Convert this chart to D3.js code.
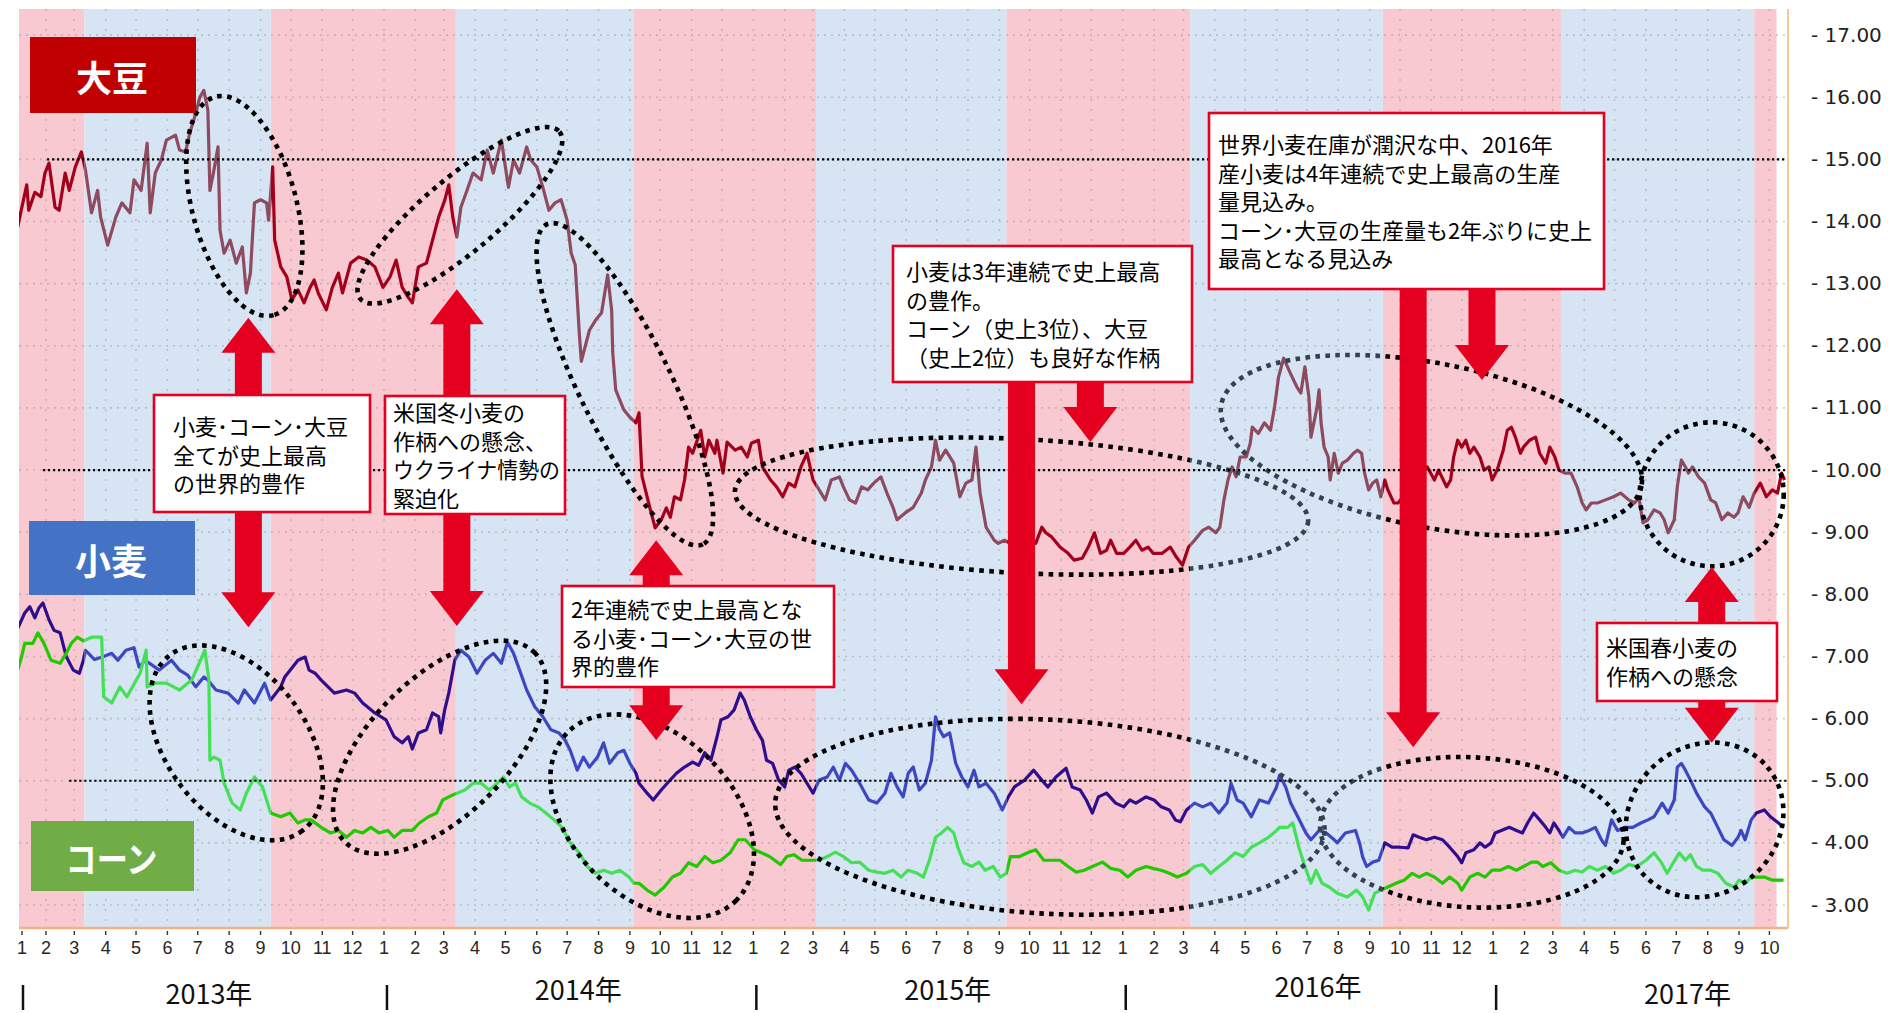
<!DOCTYPE html>
<html lang="ja">
<head>
<meta charset="utf-8">
<title>小麦・コーン・大豆 価格推移</title>
<script src="https://cdn.jsdelivr.net/npm/d3@7"></script>
<style>
  html, body { margin: 0; padding: 0; background: #fff; }
  svg { display: block; }
  .jp { font-family: "Noto Sans CJK JP", "Noto Sans", sans-serif; }
</style>
</head>
<body>
<svg id="chart" width="1888" height="1013"></svg>
<script>
// --- data: [date, price] ---
const soyPrices = [
  ["2013-01-04",13.9],["2013-01-07",14.14],["2013-01-13",14.59],["2013-01-15",14.18],["2013-01-21",14.47],["2013-01-27",14.4],
  ["2013-01-31",14.78],["2013-02-04",14.94],["2013-02-10",14.23],["2013-02-14",14.18],["2013-02-20",14.78],["2013-02-24",14.5],
  ["2013-03-02",14.88],["2013-03-08",15.12],["2013-03-12",14.83],["2013-03-18",14.14],["2013-03-24",14.5],["2013-03-27",14.07],
  ["2013-04-03",13.62],["2013-04-11",14.07],["2013-04-17",14.3],["2013-04-25",14.14],["2013-04-29",14.67],["2013-05-06",14.5],
  ["2013-05-12",15.26],["2013-05-15",14.14],["2013-05-20",14.78],["2013-05-26",14.99],["2013-05-31",15.31],["2013-06-09",15.39],
  ["2013-06-13",15.15],["2013-06-19",15.12],["2013-06-23",15.42],["2013-06-29",15.74],["2013-07-03",16.0],["2013-07-07",16.11],
  ["2013-07-11",15.79],["2013-07-13",14.5],["2013-07-17",14.83],["2013-07-21",15.2],["2013-07-23",13.86],["2013-07-27",13.49],
  ["2013-08-02",13.7],["2013-08-08",13.33],["2013-08-14",13.59],["2013-08-18",12.85],["2013-08-22",13.17],["2013-08-26",14.3],
  ["2013-09-01",14.35],["2013-09-07",14.3],["2013-09-09",14.02],["2013-09-13",14.88],["2013-09-15",13.7],["2013-09-21",13.27],
  ["2013-09-27",13.11],["2013-10-02",12.74],["2013-10-08",12.9],["2013-10-14",12.69],["2013-10-20",12.94],["2013-10-24",13.06],
  ["2013-10-28",12.85],["2013-11-05",12.58],["2013-11-11",12.94],["2013-11-17",13.17],["2013-11-21",12.85],["2013-11-29",13.33],
  ["2013-12-07",13.43],["2013-12-15",13.38],["2013-12-23",13.27],["2013-12-31",12.94],["2014-01-07",13.11],["2014-01-13",13.38],
  ["2014-01-19",12.94],["2014-01-25",12.78],["2014-01-29",12.69],["2014-02-04",13.27],["2014-02-12",13.33],["2014-02-18",13.7],
  ["2014-02-24",14.07],["2014-03-02",14.34],["2014-03-06",14.59],["2014-03-10",14.07],["2014-03-14",13.75],["2014-03-18",14.23],
  ["2014-03-24",14.5],["2014-03-30",14.78],["2014-04-07",14.67],["2014-04-13",15.15],["2014-04-19",14.78],["2014-04-27",15.31],
  ["2014-05-04",14.55],["2014-05-09",14.99],["2014-05-15",14.78],["2014-05-22",15.2],["2014-05-26",14.99],["2014-06-01",14.88],
  ["2014-06-07",14.55],["2014-06-13",14.18],["2014-06-19",14.3],["2014-06-25",14.35],["2014-07-01",14.02],["2014-07-05",13.49],
  ["2014-07-09",13.3],["2014-07-13",12.2],["2014-07-15",11.75],["2014-07-23",12.25],["2014-07-29",12.41],["2014-08-04",12.53],
  ["2014-08-10",13.14],["2014-08-14",12.57],["2014-08-15",11.9],["2014-08-18",11.29],["2014-08-26",10.97],["2014-09-01",10.85],
  ["2014-09-07",10.76],["2014-09-10",10.92],["2014-09-13",9.9],["2014-09-22",9.31],["2014-09-26",9.07],["2014-10-02",9.2],
  ["2014-10-07",9.39],["2014-10-11",9.24],["2014-10-15",9.57],["2014-10-21",9.52],["2014-10-25",9.84],["2014-10-29",10.37],
  ["2014-11-02",10.27],["2014-11-10",10.64],["2014-11-14",10.21],["2014-11-18",10.48],["2014-11-24",10.27],["2014-11-26",10.48],
  ["2014-12-02",9.95],["2014-12-06",10.45],["2014-12-14",10.32],["2014-12-20",10.37],["2014-12-26",10.21],["2014-12-30",10.43],
  ["2015-01-06",10.48],["2015-01-10",10.05],["2015-01-18",9.84],["2015-01-24",9.73],["2015-01-30",9.57],["2015-02-05",9.79],
  ["2015-02-11",9.73],["2015-02-17",10.05],["2015-02-23",10.27],["2015-03-01",9.84],["2015-03-07",9.68],["2015-03-13",9.52],
  ["2015-03-19",9.84],["2015-03-27",9.89],["2015-03-31",9.73],["2015-04-06",9.52],["2015-04-12",9.47],["2015-04-18",9.73],
  ["2015-04-24",9.68],["2015-04-30",9.79],["2015-05-07",9.89],["2015-05-13",9.63],["2015-05-19",9.4],["2015-05-23",9.2],
  ["2015-05-31",9.31],["2015-06-08",9.4],["2015-06-16",9.63],["2015-06-20",9.84],["2015-06-26",10.05],["2015-06-30",10.48],
  ["2015-07-04",10.16],["2015-07-10",10.32],["2015-07-18",10.11],["2015-07-24",9.57],["2015-07-30",9.79],["2015-08-05",9.84],
  ["2015-08-09",10.37],["2015-08-13",9.63],["2015-08-19",9.08],["2015-08-27",8.87],["2015-08-31",8.82],["2015-09-06",8.87],
  ["2015-09-12",8.82],["2015-09-21",8.92],["2015-09-29",8.87],["2015-10-07",8.82],["2015-10-13",9.08],["2015-10-17",8.99],
  ["2015-10-23",8.92],["2015-10-31",8.76],["2015-11-08",8.66],["2015-11-14",8.55],["2015-11-22",8.58],["2015-11-28",8.76],
  ["2015-12-04",8.99],["2015-12-10",8.66],["2015-12-16",8.71],["2015-12-20",8.87],["2015-12-26",8.66],["2016-01-02",8.66],
  ["2016-01-08",8.76],["2016-01-14",8.87],["2016-01-20",8.71],["2016-01-26",8.76],["2016-01-31",8.66],["2016-02-09",8.66],
  ["2016-02-17",8.76],["2016-02-23",8.6],["2016-02-29",8.47],["2016-03-06",8.76],["2016-03-12",8.87],["2016-03-20",9.03],
  ["2016-03-26",9.08],["2016-04-02",8.99],["2016-04-06",9.08],["2016-04-10",9.52],["2016-04-14",9.84],["2016-04-18",10.05],
  ["2016-04-22",9.89],["2016-04-26",10.21],["2016-05-02",10.21],["2016-05-06",10.43],["2016-05-08",10.69],["2016-05-14",10.59],
  ["2016-05-20",10.76],["2016-05-26",10.64],["2016-05-30",11.01],["2016-06-03",11.5],["2016-06-08",11.8],["2016-06-14",11.58],
  ["2016-06-21",11.34],["2016-06-25",11.24],["2016-06-29",11.66],["2016-07-03",11.17],["2016-07-05",10.53],["2016-07-11",11.01],
  ["2016-07-13",11.29],["2016-07-15",10.76],["2016-07-18",10.37],["2016-07-22",10.21],["2016-07-24",9.84],["2016-07-28",10.27],
  ["2016-08-01",9.95],["2016-08-05",10.11],["2016-08-10",10.16],["2016-08-16",10.27],["2016-08-20",10.32],["2016-08-24",10.27],
  ["2016-08-27",9.95],["2016-08-31",9.68],["2016-09-04",9.79],["2016-09-08",9.84],["2016-09-12",9.57],["2016-09-16",9.84],
  ["2016-09-19",9.68],["2016-09-25",9.47],["2016-09-29",9.47],["2016-10-28",10.05],["2016-11-04",9.84],["2016-11-08",10.0],
  ["2016-11-16",9.73],["2016-11-20",9.84],["2016-11-23",10.21],["2016-11-27",10.48],["2016-12-01",10.37],["2016-12-05",10.48],
  ["2016-12-09",10.27],["2016-12-13",10.37],["2016-12-19",10.21],["2016-12-23",10.0],["2016-12-28",10.05],["2016-12-31",9.84],
  ["2017-01-05",10.0],["2017-01-11",10.32],["2017-01-15",10.64],["2017-01-19",10.69],["2017-01-23",10.53],["2017-01-28",10.27],
  ["2017-01-31",10.37],["2017-02-06",10.48],["2017-02-12",10.53],["2017-02-16",10.27],["2017-02-22",10.11],["2017-02-26",10.37],
  ["2017-03-03",10.21],["2017-03-07",10.0],["2017-03-13",9.95],["2017-03-19",9.95],["2017-03-25",9.73],["2017-03-30",9.47],
  ["2017-04-03",9.36],["2017-04-08",9.47],["2017-04-14",9.47],["2017-04-22",9.52],["2017-04-30",9.57],["2017-05-07",9.63],
  ["2017-05-15",9.52],["2017-05-21",9.47],["2017-05-25",9.57],["2017-05-29",9.15],["2017-06-03",9.2],["2017-06-09",9.36],
  ["2017-06-15",9.31],["2017-06-19",9.2],["2017-06-23",8.99],["2017-06-29",9.2],["2017-07-02",9.73],["2017-07-06",10.16],
  ["2017-07-10",10.05],["2017-07-13",9.95],["2017-07-17",10.05],["2017-07-23",9.89],["2017-07-29",9.79],["2017-08-04",9.52],
  ["2017-08-09",9.47],["2017-08-15",9.2],["2017-08-21",9.31],["2017-08-27",9.24],["2017-08-31",9.31],["2017-09-05",9.57],
  ["2017-09-11",9.4],["2017-09-16",9.63],["2017-09-22",9.79],["2017-09-28",9.57],["2017-10-04",9.68],["2017-10-09",9.63],
  ["2017-10-13",9.95],["2017-10-16",9.84]
];

const wheatPrices = [
  ["2013-01-04",7.45],["2013-01-11",7.70],["2013-01-16",7.80],["2013-01-21",7.62],["2013-01-25",7.78],["2013-01-29",7.86],
  ["2013-02-04",7.59],["2013-02-09",7.42],["2013-02-15",7.38],["2013-02-21",7.0],["2013-02-28",6.78],["2013-03-06",6.73],
  ["2013-03-10",6.94],["2013-03-12",7.10],["2013-03-21",6.95],["2013-03-30",7.0],["2013-04-07",7.05],["2013-04-13",6.94],
  ["2013-04-21",7.10],["2013-04-29",7.14],["2013-05-04",6.83],["2013-05-10",6.94],["2013-05-24",6.78],["2013-06-05",6.94],
  ["2013-06-13",6.78],["2013-06-21",6.70],["2013-06-29",6.51],["2013-07-07",6.67],["2013-07-11",6.62],["2013-07-19",6.46],
  ["2013-07-31",6.41],["2013-08-10",6.25],["2013-08-16",6.46],["2013-08-26",6.25],["2013-09-05",6.57],["2013-09-11",6.30],
  ["2013-09-21",6.51],["2013-09-25",6.67],["2013-10-08",6.94],["2013-10-15",6.99],["2013-10-19",6.78],["2013-10-25",6.73],
  ["2013-10-31",6.62],["2013-11-13",6.41],["2013-11-25",6.46],["2013-12-03",6.41],["2013-12-11",6.25],["2013-12-23",6.09],
  ["2014-01-03",5.98],["2014-01-11",5.71],["2014-01-19",5.61],["2014-01-25",5.71],["2014-01-29",5.51],["2014-02-04",5.77],
  ["2014-02-12",5.82],["2014-02-18",6.09],["2014-02-24",6.03],["2014-02-26",5.77],["2014-03-02",6.14],["2014-03-06",6.41],
  ["2014-03-12",6.94],["2014-03-18",7.10],["2014-03-26",6.99],["2014-04-03",6.73],["2014-04-11",6.94],["2014-04-19",7.05],
  ["2014-04-27",6.89],["2014-05-03",7.23],["2014-05-09",7.05],["2014-05-15",6.78],["2014-05-22",6.46],["2014-05-30",6.19],
  ["2014-06-07",6.03],["2014-06-15",5.82],["2014-06-23",5.77],["2014-06-29",5.65],["2014-07-04",5.49],["2014-07-11",5.17],
  ["2014-07-17",5.38],["2014-07-23",5.22],["2014-07-31",5.38],["2014-08-06",5.61],["2014-08-12",5.28],["2014-08-20",5.45],
  ["2014-08-26",5.49],["2014-09-01",5.28],["2014-09-07",5.12],["2014-09-10",4.96],["2014-09-18",4.80],["2014-09-24",4.69],
  ["2014-10-02",4.85],["2014-10-09",4.98],["2014-10-17",5.12],["2014-10-25",5.22],["2014-11-02",5.30],["2014-11-08",5.25],
  ["2014-11-14",5.45],["2014-11-20",5.33],["2014-11-26",5.70],["2014-11-30",5.98],["2014-12-07",6.03],["2014-12-13",6.14],
  ["2014-12-19",6.41],["2014-12-23",6.30],["2014-12-29",6.03],["2015-01-04",5.82],["2015-01-10",5.65],["2015-01-14",5.33],
  ["2015-01-20",5.28],["2015-01-26",5.01],["2015-02-01",4.90],["2015-02-05",5.17],["2015-02-11",5.22],["2015-02-17",5.12],
  ["2015-02-23",4.96],["2015-03-01",4.80],["2015-03-07",5.01],["2015-03-15",5.06],["2015-03-21",5.22],["2015-03-27",5.01],
  ["2015-04-02",5.28],["2015-04-08",5.17],["2015-04-16",4.96],["2015-04-25",4.69],["2015-05-03",4.64],["2015-05-11",4.80],
  ["2015-05-17",5.12],["2015-05-23",4.90],["2015-05-29",4.74],["2015-06-03",5.12],["2015-06-08",5.22],["2015-06-14",4.85],
  ["2015-06-20",4.96],["2015-06-26",5.33],["2015-06-30",6.03],["2015-07-04",5.82],["2015-07-08",5.71],["2015-07-14",5.77],
  ["2015-07-20",5.28],["2015-07-26",5.06],["2015-08-01",4.90],["2015-08-07",5.17],["2015-08-12",4.90],["2015-08-19",4.96],
  ["2015-08-27",4.80],["2015-09-04",4.53],["2015-09-10",4.74],["2015-09-16",4.90],["2015-09-26",5.01],["2015-10-05",5.17],
  ["2015-10-13",5.01],["2015-10-19",4.90],["2015-10-27",5.06],["2015-11-06",5.20],["2015-11-12",4.90],["2015-11-20",4.85],
  ["2015-11-26",4.69],["2015-12-02",4.48],["2015-12-08",4.74],["2015-12-16",4.80],["2015-12-25",4.64],["2016-01-02",4.58],
  ["2016-01-08",4.69],["2016-01-14",4.64],["2016-01-24",4.74],["2016-02-01",4.69],["2016-02-08",4.58],["2016-02-16",4.53],
  ["2016-02-22",4.37],["2016-02-27",4.34],["2016-03-04",4.53],["2016-03-12",4.64],["2016-03-20",4.58],["2016-03-28",4.64],
  ["2016-04-05",4.48],["2016-04-13",4.64],["2016-04-17",4.96],["2016-04-23",4.69],["2016-04-29",4.64],["2016-05-07",4.42],
  ["2016-05-15",4.69],["2016-05-24",4.64],["2016-06-01",4.90],["2016-06-04",5.09],["2016-06-10",4.90],["2016-06-15",4.64],
  ["2016-06-22",4.42],["2016-06-30",4.16],["2016-07-05",4.05],["2016-07-13",4.20],["2016-07-20",4.16],["2016-07-28",4.05],
  ["2016-07-31",4.00],["2016-08-08",4.16],["2016-08-18",4.20],["2016-08-22",4.00],["2016-08-25",3.78],["2016-08-29",3.62],
  ["2016-09-04",3.69],["2016-09-10",3.72],["2016-09-16",4.00],["2016-09-23",3.93],["2016-10-01",3.93],["2016-10-09",3.92],
  ["2016-10-14",4.13],["2016-10-20",4.09],["2016-10-27",4.05],["2016-11-04",4.09],["2016-11-12",4.05],["2016-11-19",3.93],
  ["2016-11-27",3.78],["2016-12-01",3.68],["2016-12-05",3.84],["2016-12-13",3.89],["2016-12-19",4.00],["2016-12-24",3.93],
  ["2016-12-30",4.00],["2017-01-03",4.16],["2017-01-09",4.20],["2017-01-17",4.25],["2017-01-24",4.20],["2017-01-30",4.16],
  ["2017-02-04",4.32],["2017-02-10",4.48],["2017-02-16",4.37],["2017-02-22",4.25],["2017-02-26",4.16],["2017-03-02",4.32],
  ["2017-03-07",4.20],["2017-03-11",4.09],["2017-03-17",4.25],["2017-03-23",4.16],["2017-03-30",4.16],["2017-04-06",4.20],
  ["2017-04-12",4.25],["2017-04-18",4.05],["2017-04-22",3.96],["2017-04-28",4.37],["2017-05-04",4.20],["2017-05-11",4.25],
  ["2017-05-19",4.25],["2017-05-27",4.32],["2017-06-03",4.37],["2017-06-09",4.42],["2017-06-17",4.64],["2017-06-23",4.48],
  ["2017-06-29",4.69],["2017-07-02",5.22],["2017-07-06",5.28],["2017-07-10",5.17],["2017-07-15",5.01],["2017-07-21",4.80],
  ["2017-07-29",4.58],["2017-08-04",4.48],["2017-08-11",4.25],["2017-08-17",4.05],["2017-08-25",3.96],["2017-08-31",4.09],
  ["2017-09-03",4.20],["2017-09-07",4.05],["2017-09-13",4.37],["2017-09-18",4.48],["2017-09-26",4.53],["2017-10-02",4.42],
  ["2017-10-10",4.32],["2017-10-15",4.25]
];

const cornPrices = [
  ["2013-01-04",6.78],["2013-01-08",7.0],["2013-01-11",7.21],["2013-01-19",7.21],["2013-01-24",7.38],["2013-01-30",7.21],
  ["2013-02-06",6.94],["2013-02-15",6.89],["2013-02-21",7.05],["2013-02-26",7.21],["2013-03-04",7.31],["2013-03-10",7.25],
  ["2013-03-18",7.31],["2013-03-28",7.31],["2013-03-30",6.35],["2013-04-07",6.25],["2013-04-15",6.51],["2013-04-22",6.35],
  ["2013-05-05",6.73],["2013-05-11",7.10],["2013-05-12",6.51],["2013-05-20",6.57],["2013-05-31",6.57],["2013-06-13",6.46],
  ["2013-06-25",6.62],["2013-07-08",7.10],["2013-07-12",6.62],["2013-07-13",5.33],["2013-07-17",5.38],["2013-07-23",5.33],
  ["2013-07-27",4.96],["2013-08-04",4.64],["2013-08-12",4.53],["2013-08-18",4.80],["2013-08-26",5.06],["2013-09-03",4.90],
  ["2013-09-11",4.48],["2013-09-21",4.42],["2013-09-30",4.48],["2013-10-08",4.32],["2013-10-15",4.37],["2013-10-21",4.37],
  ["2013-10-31",4.25],["2013-11-09",4.16],["2013-11-17",4.20],["2013-11-25",4.09],["2013-12-03",4.20],["2013-12-11",4.16],
  ["2013-12-19",4.25],["2013-12-27",4.16],["2014-01-05",4.20],["2014-01-11",4.09],["2014-01-19",4.20],["2014-01-29",4.20],
  ["2014-02-05",4.32],["2014-02-14",4.42],["2014-02-22",4.48],["2014-02-28",4.69],["2014-03-06",4.74],["2014-03-14",4.80],
  ["2014-03-22",4.85],["2014-03-30",4.96],["2014-04-07",4.96],["2014-04-15",4.85],["2014-04-23",4.96],["2014-04-29",5.06],
  ["2014-05-05",4.90],["2014-05-11",4.96],["2014-05-17",4.74],["2014-05-25",4.64],["2014-06-02",4.58],["2014-06-10",4.48],
  ["2014-06-18",4.37],["2014-06-26",4.25],["2014-07-04",4.00],["2014-07-13",3.84],["2014-07-21",3.62],["2014-07-29",3.51],
  ["2014-08-06",3.56],["2014-08-14",3.51],["2014-08-22",3.56],["2014-08-31",3.45],["2014-09-05",3.35],["2014-09-10",3.35],
  ["2014-09-18",3.24],["2014-09-26",3.16],["2014-10-05",3.29],["2014-10-13",3.45],["2014-10-21",3.51],["2014-10-29",3.68],
  ["2014-11-06",3.62],["2014-11-14",3.78],["2014-11-22",3.68],["2014-11-30",3.72],["2014-12-09",3.84],["2014-12-17",4.05],
  ["2014-12-24",4.05],["2015-01-02",3.89],["2015-01-09",3.84],["2015-01-17",3.78],["2015-01-28",3.65],["2015-02-03",3.78],
  ["2015-02-10",3.81],["2015-02-18",3.72],["2015-02-26",3.72],["2015-03-07",3.72],["2015-03-15",3.78],["2015-03-23",3.85],
  ["2015-03-31",3.78],["2015-04-08",3.68],["2015-04-16",3.69],["2015-04-25",3.56],["2015-05-03",3.53],["2015-05-11",3.51],
  ["2015-05-19",3.56],["2015-05-27",3.45],["2015-06-03",3.56],["2015-06-12",3.51],["2015-06-18",3.45],["2015-06-24",3.72],
  ["2015-06-30",4.09],["2015-07-06",4.16],["2015-07-12",4.25],["2015-07-18",4.16],["2015-07-22",3.93],["2015-07-28",3.68],
  ["2015-08-05",3.62],["2015-08-12",3.69],["2015-08-18",3.56],["2015-08-26",3.62],["2015-09-02",3.45],["2015-09-08",3.51],
  ["2015-09-12",3.78],["2015-09-21",3.78],["2015-09-29",3.84],["2015-10-07",3.89],["2015-10-15",3.72],["2015-10-23",3.72],
  ["2015-10-31",3.72],["2015-11-08",3.62],["2015-11-16",3.53],["2015-11-24",3.56],["2015-12-02",3.62],["2015-12-12",3.69],
  ["2015-12-20",3.59],["2015-12-29",3.56],["2016-01-06",3.45],["2016-01-14",3.56],["2016-01-24",3.62],["2016-01-31",3.59],
  ["2016-02-08",3.56],["2016-02-16",3.51],["2016-02-24",3.45],["2016-03-04",3.51],["2016-03-12",3.62],["2016-03-20",3.65],
  ["2016-03-28",3.51],["2016-04-05",3.62],["2016-04-13",3.72],["2016-04-21",3.84],["2016-04-29",3.78],["2016-05-07",3.93],
  ["2016-05-15",4.00],["2016-05-24",4.09],["2016-06-01",4.20],["2016-06-04",4.25],["2016-06-12",4.25],["2016-06-17",4.32],
  ["2016-06-23",3.93],["2016-06-29",3.62],["2016-07-05",3.35],["2016-07-10",3.56],["2016-07-16",3.35],["2016-07-23",3.29],
  ["2016-07-31",3.19],["2016-08-10",3.13],["2016-08-19",3.24],["2016-08-25",3.13],["2016-08-31",2.92],["2016-09-06",3.19],
  ["2016-09-12",3.24],["2016-09-19",3.29],["2016-09-27",3.35],["2016-10-05",3.40],["2016-10-13",3.51],["2016-10-20",3.45],
  ["2016-10-27",3.51],["2016-11-04",3.45],["2016-11-12",3.35],["2016-11-19",3.45],["2016-11-27",3.35],["2016-12-01",3.24],
  ["2016-12-09",3.45],["2016-12-17",3.51],["2016-12-24",3.45],["2016-12-31",3.56],["2017-01-08",3.56],["2017-01-16",3.62],
  ["2017-01-24",3.56],["2017-01-31",3.62],["2017-02-08",3.69],["2017-02-14",3.69],["2017-02-19",3.62],["2017-02-27",3.68],
  ["2017-03-07",3.56],["2017-03-15",3.51],["2017-03-23",3.56],["2017-03-30",3.53],["2017-04-06",3.62],["2017-04-14",3.56],
  ["2017-04-22",3.62],["2017-04-30",3.51],["2017-05-07",3.56],["2017-05-15",3.65],["2017-05-23",3.62],["2017-06-01",3.72],
  ["2017-06-09",3.84],["2017-06-16",3.69],["2017-06-22",3.51],["2017-06-28",3.68],["2017-07-04",3.84],["2017-07-10",3.72],
  ["2017-07-15",3.81],["2017-07-21",3.62],["2017-07-27",3.56],["2017-08-04",3.56],["2017-08-11",3.51],["2017-08-19",3.35],
  ["2017-08-27",3.29],["2017-09-01",3.40],["2017-09-07",3.35],["2017-09-13",3.45],["2017-09-18",3.45],["2017-09-26",3.45],
  ["2017-10-04",3.40],["2017-10-15",3.40]
];

// season bands (pink = southern crop season, blue = northern)
const pinkBands = [["2012-12-25","2013-03-11"],["2013-09-11","2014-03-13"],["2014-09-05","2015-03-04"],
                   ["2015-09-08","2016-03-08"],["2016-09-14","2017-03-09"],["2017-09-16","2017-10-08"]];
const blueBands = [["2013-03-11","2013-09-11"],["2014-03-13","2014-09-05"],["2015-03-04","2015-09-08"],
                   ["2016-03-08","2016-09-14"],["2017-03-09","2017-09-16"]];
const shadedBand = ["2016-03-08","2016-09-14"]; // ellipses look greyed inside this one

const yTicks = [3,4,5,6,7,8,9,10,11,12,13,14,15,16,17];
const refLevels = [[15,"2013-02-02"],[10,"2013-01-29"],[5,"2013-02-24"]];
const years = [2013, 2014, 2015, 2016, 2017];
const yearBaseline = [1004, 1000, 1000, 997, 1004];

// series colours: [in pink season, in blue season]
const series = [
  {data: soyPrices,   colors: ["#A3001B", "#8E4A5E"]},
  {data: wheatPrices, colors: ["#2E0E8E", "#3D47C2"]},
  {data: cornPrices,  colors: ["#22C800", "#44E058"]}
];

// annotations in data space: [date, top value, bottom value, headAtTop]
const arrows = [
  ["2013-08-20",12.45,7.47,true],["2014-03-14",12.91,7.49,true],["2014-09-27",8.87,5.65,true],
  ["2015-09-23",11.45,6.23,false],["2015-11-30",11.5,10.45,false],["2016-10-14",13.0,5.54,false],
  ["2016-12-21",13.0,11.45,false],["2017-08-05",8.44,5.61,true]
];
// ellipses: [centre date, centre value, rx px, ry px, angle deg]
const ellipses = [
  ["2013-08-16",14.25,113,52,75],["2014-03-17",14.10,130,37,-40],["2014-08-27",11.38,178,46,64],
  ["2015-09-23",9.42,287,67,3],["2016-11-01",10.40,214,82,11],["2017-08-05",9.61,72,72,0],
  ["2013-08-08",5.61,110,70,53],["2014-02-25",5.54,134,69,-45],["2014-09-23",4.43,119,81,45],
  ["2015-10-21",4.42,275,97,3],["2016-12-11",4.17,152,75,3],["2017-07-29",4.37,82,74,-40]
];

const callouts = [
  {x:154, y:395, w:216, h:117, tx:173, base:435, lines:["小麦･コーン･大豆","全てが史上最高","の世界的豊作"]},
  {x:385, y:396, w:180, h:118, tx:393, base:421, lines:["米国冬小麦の","作柄への懸念、","ウクライナ情勢の","緊迫化"]},
  {x:562, y:586, w:272, h:101, tx:571, base:618, lines:["2年連続で史上最高とな","る小麦･コーン･大豆の世","界的豊作"]},
  {x:893, y:246, w:299, h:136, tx:906, base:280, lines:["小麦は3年連続で史上最高","の豊作。","コーン（史上3位）、大豆","（史上2位）も良好な作柄"]},
  {x:1209, y:113, w:395, h:176, tx:1218, base:153, lines:["世界小麦在庫が潤沢な中、2016年","産小麦は4年連続で史上最高の生産","量見込み。","コーン･大豆の生産量も2年ぶりに史上","最高となる見込み"]},
  {x:1597, y:623, w:180, h:78, tx:1606, base:656, lines:["米国春小麦の","作柄への懸念"]}
];
const tags = [
  {label:"大豆", fill:"#C00000", x:30, y:37, w:166, h:76},
  {label:"小麦", fill:"#4472C4", x:29, y:521, w:166, h:74},
  {label:"コーン", fill:"#70AD47", x:31, y:821, w:163, h:70, fit:92}
];

// --- layout ---
const plot = {left: 19, right: 1788, top: 9, bottom: 928};
const parse = d3.timeParse("%Y-%m-%d");
const x = d3.scaleTime().domain([parse("2013-01-01"), parse("2017-10-01")]).range([14.6, 1769.4]);
const y = d3.scaleLinear().domain([2.63, 17.42]).range([plot.bottom, plot.top]);

const svg = d3.select("#chart");
const defs = svg.append("defs");
const bandX = d => Math.max(plot.left, x(parse(d)));
const bandW = d => Math.min(plot.right, x(parse(d[1]))) - bandX(d[0]);

// clip paths: pink seasons, blue seasons, outside / inside the greyed band
function clipFrom(id, ranges) {
  defs.append("clipPath").attr("id", id).selectAll("rect").data(ranges).join("rect")
    .attr("x", d => bandX(d[0])).attr("y", plot.top).attr("width", bandW).attr("height", plot.bottom - plot.top);
}
clipFrom("clipPink", pinkBands.map((d, i) => i === pinkBands.length - 1 ? [d[0], "2017-10-25"] : d));
clipFrom("clipBlue", blueBands);
clipFrom("clipShade", [shadedBand]);
defs.append("clipPath").attr("id", "clipNoShade").selectAll("rect")
  .data([[0, x(parse(shadedBand[0]))], [x(parse(shadedBand[1])), 1888]]).join("rect")
  .attr("x", d => d[0]).attr("y", 0).attr("width", d => d[1] - d[0]).attr("height", 1013);

// season bands
svg.append("g").selectAll("rect").data(pinkBands).join("rect")
  .attr("x", d => bandX(d[0])).attr("y", plot.top).attr("width", bandW).attr("height", plot.bottom - plot.top)
  .attr("fill", "#F8C9D0");
svg.append("g").selectAll("rect").data(blueBands).join("rect")
  .attr("x", d => bandX(d[0])).attr("y", plot.top).attr("width", bandW).attr("height", plot.bottom - plot.top)
  .attr("fill", "#D6E4F3");

// light grid
const grid = svg.append("g").attr("stroke", "#8a8a8a").attr("stroke-opacity", 0.4).attr("stroke-width", 1.6);
grid.selectAll("line.h").data(yTicks).join("line").attr("class", "h")
  .attr("stroke-dasharray", "2,5")
  .attr("x1", plot.left).attr("x2", plot.right).attr("y1", d => y(d)).attr("y2", d => y(d));
const months = d3.timeMonth.range(parse("2013-02-01"), parse("2017-10-02"));
grid.selectAll("line.v").data(months).join("line").attr("class", "v")
  .attr("stroke-dasharray", "2,8")
  .attr("x1", d => x(d)).attr("x2", d => x(d)).attr("y1", plot.top).attr("y2", plot.bottom);

// price lines, coloured by season
const line = d3.line().x(d => x(parse(d[0]))).y(d => y(d[1]));
["clipPink", "clipBlue"].forEach((clip, k) => {
  const g = svg.append("g").attr("clip-path", `url(#${clip})`).attr("fill", "none")
    .attr("stroke-width", 3.2).attr("stroke-linejoin", "round");
  series.forEach(s => g.append("path").datum(s.data).attr("d", line).attr("stroke", s.colors[k]));
});

// dotted ellipses (grey inside the shaded band)
function drawEllipses(clip, color) {
  svg.append("g").attr("clip-path", `url(#${clip})`).selectAll("ellipse").data(ellipses).join("ellipse")
    .attr("cx", d => x(parse(d[0]))).attr("cy", d => y(d[1]))
    .attr("rx", d => d[2]).attr("ry", d => d[3])
    .attr("transform", d => `rotate(${d[4]} ${x(parse(d[0]))} ${y(d[1])})`)
    .attr("fill", "none").attr("stroke", color).attr("stroke-width", 4.6)
    .attr("stroke-dasharray", "4.6,5.4");
}
drawEllipses("clipNoShade", "#000");
drawEllipses("clipShade", "#34414f");

// black dotted reference levels
svg.append("g").selectAll("line").data(refLevels).join("line")
  .attr("x1", d => x(parse(d[1]))).attr("x2", plot.right)
  .attr("y1", d => y(d[0])).attr("y2", d => y(d[0]))
  .attr("stroke", "#000").attr("stroke-width", 2.2).attr("stroke-dasharray", "2.2,2.8");

// axes
svg.append("line").attr("x1", plot.left).attr("x2", plot.right).attr("y1", plot.bottom).attr("y2", plot.bottom)
  .attr("stroke", "#F4B183").attr("stroke-width", 2.5);
svg.append("line").attr("x1", plot.right).attr("x2", plot.right).attr("y1", plot.top).attr("y2", plot.bottom)
  .attr("stroke", "#F7C796").attr("stroke-width", 2);

svg.append("g").selectAll("text").data(yTicks).join("text")
  .attr("x", 1811).attr("y", d => y(d) + 1).attr("dominant-baseline", "middle")
  .attr("font-family", "DejaVu Sans, Verdana, sans-serif").attr("font-size", 20).attr("fill", "#222")
  .text(d => "- " + d.toFixed(2));

const allMonths = d3.timeMonth.range(parse("2013-01-01"), parse("2017-10-02"));
const mx = d => Math.max(22, x(d));
svg.append("g").selectAll("line").data(allMonths).join("line")
  .attr("x1", mx).attr("x2", mx).attr("y1", 931).attr("y2", 935)
  .attr("stroke", "#333").attr("stroke-width", 1.4);
svg.append("g").selectAll("text").data(allMonths).join("text")
  .attr("x", mx).attr("y", 954).attr("text-anchor", "middle")
  .attr("font-family", "Liberation Sans Narrow, Arial Narrow, Liberation Sans, sans-serif")
  .attr("font-size", 18).attr("fill", "#2a2520")
  .text(d => d.getMonth() + 1);

svg.append("g").selectAll("text").data(years).join("text")
  .attr("class", "jp").attr("x", d => x(new Date(d, 6, 12))).attr("y", (d, i) => yearBaseline[i])
  .attr("text-anchor", "middle").attr("font-size", 27).attr("fill", "#111")
  .text(d => d + "年");
svg.append("g").selectAll("line").data(years).join("line")
  .attr("x1", d => Math.max(23, x(new Date(d, 0, 1)) + 3)).attr("x2", d => Math.max(23, x(new Date(d, 0, 1)) + 3))
  .attr("y1", 985).attr("y2", 1010).attr("stroke", "#111").attr("stroke-width", 2.5);

// red arrows
const shaftW = 27, headW = 54, headL = 35;
function arrowPath(cx, yTop, yBot, headTop) {
  const s = shaftW / 2, h = headW / 2;
  const p = [];
  if (headTop) p.push([cx, yTop], [cx + h, yTop + headL], [cx + s, yTop + headL]);
  else p.push([cx - s, yTop], [cx + s, yTop]);
  p.push([cx + s, yBot - headL], [cx + h, yBot - headL], [cx, yBot], [cx - h, yBot - headL], [cx - s, yBot - headL]);
  if (headTop) p.push([cx - s, yTop + headL], [cx - h, yTop + headL]);
  return "M" + p.map(q => q.join(",")).join("L") + "Z";
}
svg.append("g").selectAll("path").data(arrows).join("path")
  .attr("d", d => arrowPath(x(parse(d[0])), y(d[1]), y(d[2]), d[3]))
  .attr("fill", "#E60020");

// callout boxes
const cg = svg.append("g").attr("class", "jp");
callouts.forEach(c => {
  cg.append("rect").attr("x", c.x).attr("y", c.y).attr("width", c.w).attr("height", c.h)
    .attr("fill", "#fff").attr("stroke", "#E60020").attr("stroke-width", 2.6);
  c.lines.forEach((t, i) => {
    const el = cg.append("text").attr("x", c.tx).attr("y", c.base + i * 28.5)
      .attr("font-size", 22).attr("fill", "#000").text(t);
    const maxW = c.x + c.w - c.tx - 5;
    if (el.node().getComputedTextLength() > maxW)
      el.attr("textLength", maxW).attr("lengthAdjust", "spacingAndGlyphs");
  });
});

// commodity tags
const tg = svg.append("g").attr("class", "jp");
tags.forEach(t => {
  tg.append("rect").attr("x", t.x).attr("y", t.y).attr("width", t.w).attr("height", t.h).attr("fill", t.fill);
  const el = tg.append("text").attr("x", t.x + t.w / 2 - 1).attr("y", t.y + t.h / 2 + 1)
    .attr("text-anchor", "middle").attr("dominant-baseline", "central")
    .attr("font-size", 36).attr("font-weight", "bold").attr("fill", "#fff").text(t.label);
  if (t.fit) el.attr("textLength", t.fit).attr("lengthAdjust", "spacingAndGlyphs");
});
</script>
</body>
</html>
